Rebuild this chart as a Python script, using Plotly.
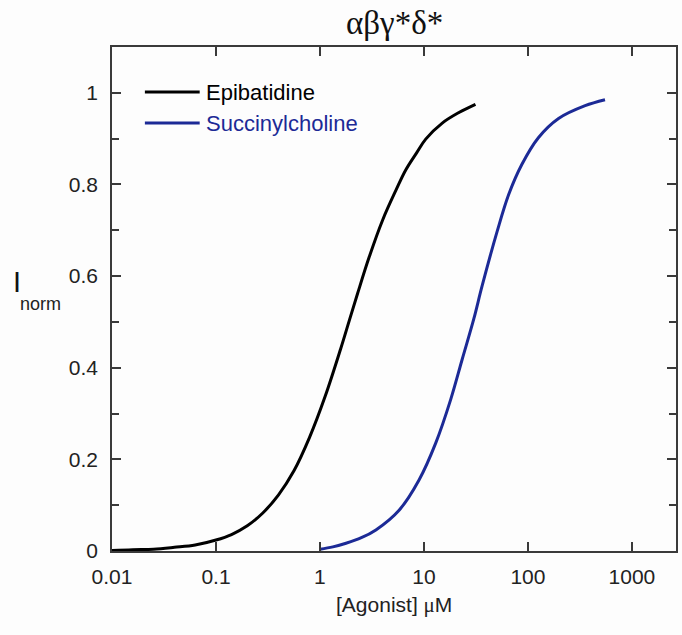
import plotly.graph_objects as go

# ---- data ----
epi_conc = [0.01, 0.0158, 0.0251, 0.0398, 0.0631, 0.1, 0.141, 0.2, 0.282, 0.398, 0.562,
            0.794, 1.12, 1.58, 1.92, 2.30, 2.98, 4.00, 5.37, 6.70, 8.5, 10.4, 15.0, 21.7, 31.3]
epi_inorm = [0.001, 0.003, 0.004, 0.008, 0.013, 0.024, 0.036, 0.055, 0.083, 0.122, 0.175,
             0.248, 0.337, 0.441, 0.504, 0.562, 0.642, 0.722, 0.787, 0.832, 0.869, 0.899,
             0.934, 0.957, 0.975]

sux_conc = [1.0, 1.33, 1.78, 2.5, 3.45, 5.77, 8.97, 13.0, 18.1, 23.3, 30.2, 36.2, 50.5,
            65.3, 87.6, 126, 197, 355, 551]
sux_inorm = [0.004, 0.009, 0.017, 0.029, 0.046, 0.089, 0.155, 0.236, 0.331, 0.418, 0.507,
             0.578, 0.697, 0.778, 0.844, 0.902, 0.944, 0.972, 0.985]

x_tickvals = [0.01, 0.1, 1, 10, 100, 1000]
x_ticktext = ["0.01", "0.1", "1", "10", "100", "1000"]
y_tickvals = [0, 0.2, 0.4, 0.6, 0.8, 1.0]
y_ticktext = ["0", "0.2", "0.4", "0.6", "0.8", "1"]
y_minor = [0.1, 0.3, 0.5, 0.7, 0.9]

series_names = ["Epibatidine", "Succinylcholine"]
series_colors = ["#000000", "#1c2a96"]

W, H = 682, 635
ML, MR, MT, MB = 112, 4, 47, 84
PW, PH = W - ML - MR, H - MT - MB


def px_x(px):
    return (px - ML) / PW


def px_y(py):
    return (H - MB - py) / PH


fig = go.Figure()
for name, xs, ys, col in [(series_names[0], epi_conc, epi_inorm, series_colors[0]),
                          (series_names[1], sux_conc, sux_inorm, series_colors[1])]:
    fig.add_trace(go.Scatter(x=xs, y=ys, mode="lines", name=name,
                             line=dict(color=col, width=3, shape="spline", smoothing=1.0),
                             showlegend=False))

axis_col = "#3a3a3a"
font_main = "Liberation Sans, Arial, sans-serif"

fig.update_xaxes(type="log", range=[-2, 3.424], tickvals=x_tickvals, ticktext=x_ticktext,
                 ticks="inside", ticklen=9, tickwidth=1.5, tickcolor=axis_col,
                 ticklabelstandoff=6,
                 showline=True, linecolor=axis_col, linewidth=1.5, mirror="allticks",
                 showgrid=False, zeroline=False,
                 tickfont=dict(family=font_main, size=21, color="#222"))
fig.update_yaxes(range=[0, 1.1], tickvals=y_tickvals, ticktext=y_ticktext,
                 ticks="inside", ticklen=9, tickwidth=1.5, tickcolor=axis_col,
                 ticklabelstandoff=8,
                 minor=dict(tickvals=y_minor, ticks="inside", ticklen=7,
                            tickwidth=1.5, tickcolor=axis_col),
                 showline=True, linecolor=axis_col, linewidth=1.5, mirror="allticks",
                 showgrid=False, zeroline=False,
                 tickfont=dict(family=font_main, size=21, color="#222"))

shapes = []
annotations = []
# custom legend
leg_y = [92, 123]
for i, (name, col) in enumerate(zip(series_names, series_colors)):
    shapes.append(dict(type="line", xref="paper", yref="paper",
                       x0=px_x(145), x1=px_x(200), y0=px_y(leg_y[i]), y1=px_y(leg_y[i]),
                       line=dict(color=col, width=3)))
    annotations.append(dict(xref="paper", yref="paper", x=px_x(204), y=px_y(leg_y[i]),
                            xanchor="left", yanchor="middle", showarrow=False, text=name,
                            font=dict(family=font_main, size=22, color=col)))

# title
annotations.append(dict(xref="paper", yref="paper", x=0.5, y=px_y(23), xanchor="center",
                        yanchor="middle", showarrow=False, text="αβγ*δ*",
                        font=dict(family="Liberation Serif, Times New Roman, serif", size=33,
                                  color="#111")))
# x-axis label
annotations.append(dict(xref="paper", yref="paper", x=0.5, y=px_y(605), xanchor="center",
                        yanchor="middle", showarrow=False,
                        text="[Agonist] <span style='font-family:Liberation Serif'>μ</span>M",
                        font=dict(family=font_main, size=21, color="#222")))
# y-axis label
annotations.append(dict(xref="paper", yref="paper", x=px_x(11), y=px_y(282), xanchor="left",
                        yanchor="middle", showarrow=False, text="I",
                        font=dict(family=font_main, size=29, color="#111")))
annotations.append(dict(xref="paper", yref="paper", x=px_x(18), y=px_y(304), xanchor="left",
                        yanchor="middle", showarrow=False, text="norm",
                        font=dict(family=font_main, size=18, color="#222")))

fig.update_layout(width=W, height=H, margin=dict(l=ML, r=MR, t=MT, b=MB),
                  paper_bgcolor="#fdfdfd", plot_bgcolor="#fdfdfd",
                  shapes=shapes, annotations=annotations, showlegend=False)

fig.write_html("out.html")
